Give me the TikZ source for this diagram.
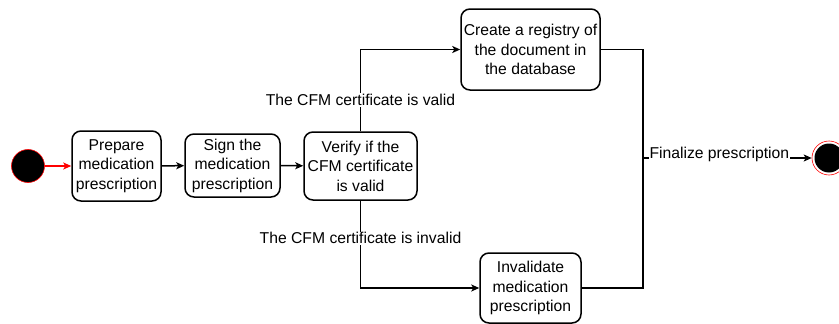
\documentclass[tikz,border=0pt]{standalone}
\usepackage{fontspec}
\setmainfont{Liberation Sans}
\usetikzlibrary{arrows.meta,calc}
\begin{document}
\begin{tikzpicture}[x=1pt,y=-1pt,
  font=\fontsize{15.7}{19.5}\selectfont,
  act/.style={draw=black,line width=1.5pt,rounded corners=9pt,align=center,inner sep=0pt,fill=white},
  conn/.style={line width=1.5pt,-{Stealth[length=8pt,width=7pt,inset=2pt]}},
  lbl/.style={fill=white,inner sep=1pt}]
\useasboundingbox (0,0) rectangle (839,324);
\node[circle,fill=black,draw=red,line width=0.6pt,minimum size=33pt,inner sep=0pt] (start) at (28,166) {};
\node[act,minimum width=89pt,minimum height=70pt] (b1) at (116.5,166) {Prepare\\medication\\prescription};
\node[act,minimum width=95pt,minimum height=63pt] (b2) at (232.5,165.5) {Sign the\\medication\\prescription};
\node[act,minimum width=113pt,minimum height=68pt] (b3) at (360.5,166) {Verify if the\\CFM certificate\\is valid};
\node[act,minimum width=139pt,minimum height=81pt] (b4) at (530.5,49.5) {Create a registry of\\the document in\\the database};
\node[act,minimum width=101pt,minimum height=70pt] (b5) at (530.5,288) {Invalidate\\medication\\prescription};
\node[circle,draw=red,line width=0.6pt,minimum size=34pt,inner sep=0pt] (end) at (829,158) {};
\node[circle,fill=black,minimum size=29pt,inner sep=0pt] (endin) at (end.center) {};
\coordinate (jt) at (643,49.5);
\coordinate (jb) at (643,288);
\coordinate (jm) at (643,158);
\draw[conn,draw=red,-{Stealth[length=8pt,width=7pt,inset=2pt,red]}] (start) -- (b1);
\draw[conn] (b1) -- (b2);
\draw[conn] (b2) -- (b3);
\draw[conn] (b3.north) |- node[lbl,pos=0.19] {The CFM certificate is valid} (b4.west);
\draw[conn] (b3.south) |- node[lbl,pos=0.215] {The CFM certificate is invalid} (b5.west);
\draw[line width=1.5pt] (b4.east) -- (jt) -- (jb) -- (b5.east);
\draw[conn] (jm) -- node[lbl,xshift=-8pt,yshift=4pt] {Finalize prescription} (end);
\end{tikzpicture}
\end{document}
